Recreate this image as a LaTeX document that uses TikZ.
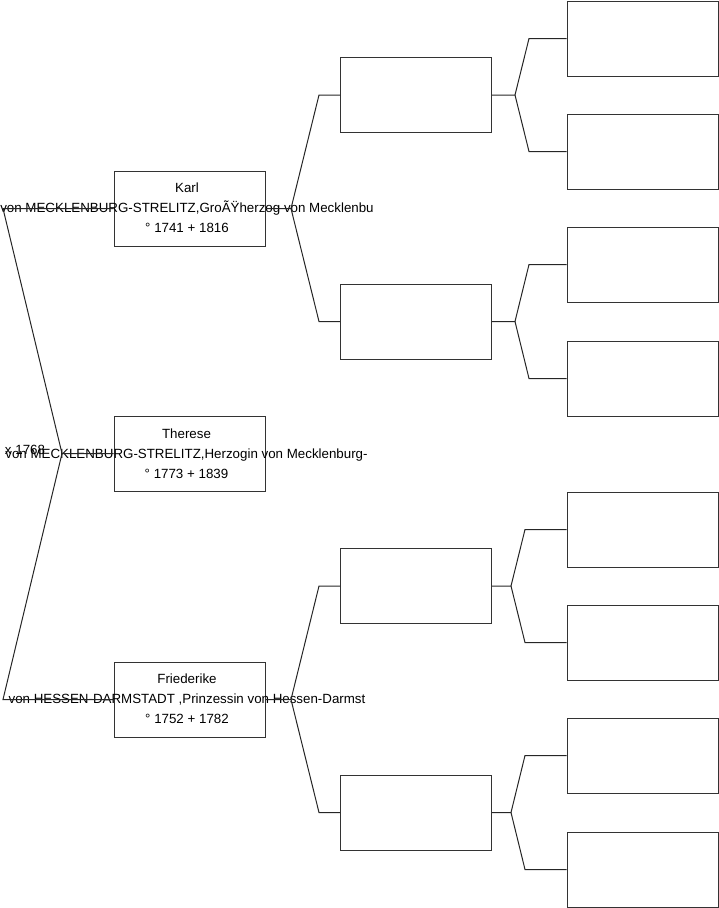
\documentclass[tikz,border=0pt]{standalone}
\usepackage{fontspec}
\setmainfont{Liberation Sans}
\begin{document}
\begin{tikzpicture}[x=1pt,y=-1pt,
  pbox/.style={draw=black!80,line width=1pt,minimum width=151pt,minimum height=75pt,inner sep=0pt},
  ptxt/.style={align=center,font=\fontsize{13.33}{20}\selectfont,inner sep=0pt},
  conn/.style={draw=black!85,line width=1pt}]
\useasboundingbox (0,0) rectangle (719,908);
% left column
\node[pbox] (karl) at (189.5,208.5) {};
\node[pbox] (ther) at (189.5,453.5) {};
\node[pbox] (fried) at (189.5,699.5) {};
\node[ptxt] (karlt) at (187,207.5) {Karl\\von MECKLENBURG-STRELITZ,GroÃŸherzog von Mecklenbu\\° 1741 + 1816};
\node[ptxt] (thert) at (186.5,453.5) {Therese\\von MECKLENBURG-STRELITZ,Herzogin von Mecklenburg-\\° 1773 + 1839};
\node[ptxt] (friedt) at (187,698.5) {Friederike\\von HESSEN-DARMSTADT ,Prinzessin von Hessen-Darmst\\° 1752 + 1782};
\node[ptxt] (marr) at (25,450) {x 1768};
% middle column
\node[pbox] (m1) at (416,95) {};
\node[pbox] (m2) at (416,321.5) {};
\node[pbox] (m3) at (416,586) {};
\node[pbox] (m4) at (416,812.5) {};
% right column
\node[pbox] (r1) at (642.5,38.5) {};
\node[pbox] (r2) at (642.5,151.5) {};
\node[pbox] (r3) at (642.5,264.5) {};
\node[pbox] (r4) at (642.5,378.5) {};
\node[pbox] (r5) at (642.5,529.5) {};
\node[pbox] (r6) at (642.5,642.5) {};
\node[pbox] (r7) at (642.5,755.5) {};
\node[pbox] (r8) at (642.5,869.5) {};
% coordinates
\coordinate (tv) at (62,453.5);
\coordinate (tk) at (3,208.5);
\coordinate (tf) at (3,699.5);
\coordinate (kv) at (291,208.5);
\coordinate (kv1) at (319,95);
\coordinate (kv2) at (319,321.5);
\coordinate (fv) at (291,699.5);
\coordinate (fv1) at (319,586);
\coordinate (fv2) at (319,812.5);
\coordinate (m1v) at (515,95);
\coordinate (m1a) at (529,38.5);
\coordinate (m1b) at (529,151.5);
\coordinate (m2v) at (515,321.5);
\coordinate (m2a) at (529,264.5);
\coordinate (m2b) at (529,378.5);
\coordinate (m3v) at (511,586);
\coordinate (m3a) at (525,529.5);
\coordinate (m3b) at (525,642.5);
\coordinate (m4v) at (511,812.5);
\coordinate (m4a) at (525,755.5);
\coordinate (m4b) at (525,869.5);
% connectors
\draw[conn] (ther.west) -- (tv) -- (tk) -- (karl.west);
\draw[conn] (tv) -- (tf) -- (fried.west);
\draw[conn] (karl.east) -- (kv) -- (kv1) -- (m1.west);
\draw[conn] (kv) -- (kv2) -- (m2.west);
\draw[conn] (fried.east) -- (fv) -- (fv1) -- (m3.west);
\draw[conn] (fv) -- (fv2) -- (m4.west);
\draw[conn] (m1.east) -- (m1v) -- (m1a) -- (r1.west);
\draw[conn] (m1v) -- (m1b) -- (r2.west);
\draw[conn] (m2.east) -- (m2v) -- (m2a) -- (r3.west);
\draw[conn] (m2v) -- (m2b) -- (r4.west);
\draw[conn] (m3.east) -- (m3v) -- (m3a) -- (r5.west);
\draw[conn] (m3v) -- (m3b) -- (r6.west);
\draw[conn] (m4.east) -- (m4v) -- (m4a) -- (r7.west);
\draw[conn] (m4v) -- (m4b) -- (r8.west);
\end{tikzpicture}
\end{document}
